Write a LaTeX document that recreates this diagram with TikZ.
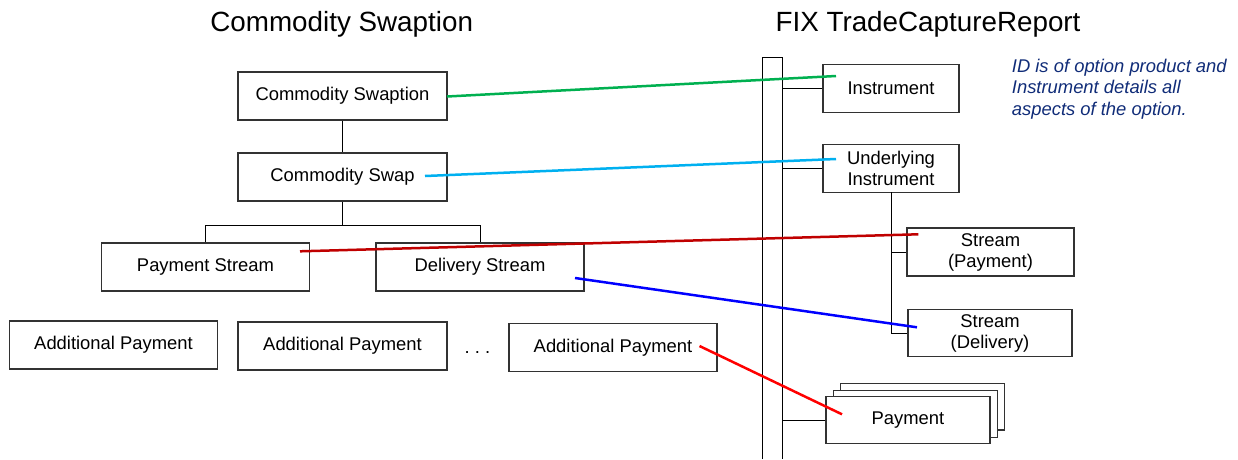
\documentclass[tikz,border=0pt]{standalone}
\usepackage{fontspec}
\setmainfont{Liberation Sans}
\usetikzlibrary{calc}

\definecolor{mapgreen}{RGB}{0,176,80}
\definecolor{mapcyan}{RGB}{0,176,240}
\definecolor{mapdarkred}{RGB}{192,0,0}
\definecolor{mapblue}{RGB}{0,0,255}
\definecolor{mapred}{RGB}{255,0,0}
\definecolor{notenavy}{RGB}{16,44,120}
\definecolor{boxline}{RGB}{50,50,50}

\tikzset{
  box/.style={draw=boxline, line width=1.1pt, fill=white, inner sep=0pt,
    align=center, font=\fontsize{18.4}{21}\selectfont},
  wide/.style={box, minimum width=209pt, minimum height=48pt},
  fixbox/.style={box, minimum width=136pt, minimum height=47.5pt},
  tree/.style={draw=black, line width=1pt},
  map/.style={line width=2.5pt},
  title/.style={font=\fontsize{27.8}{32}\selectfont, anchor=base, inner sep=0pt}
}

\begin{document}
\begin{tikzpicture}[x=1pt, y=-1pt]
\useasboundingbox (0,0) rectangle (1238,459);

% headings
\node[title] (ltitle) at (341.7,31.7) {Commodity Swaption};
\node[title] (rtitle) at (928,31.7) {FIX TradeCaptureReport};

% note (base anchor sits on the last line)
\node[font=\fontsize{18.4}{21.6}\selectfont\itshape, text=notenavy, align=left,
      anchor=base west, inner sep=0pt] (note) at (1011.7,115.5)
  {ID is of option product and\\Instrument details all\\aspects of the option.};

% commodity swaption tree
\node[wide] (swaption) at (342.5,96) {Commodity Swaption};
\node[wide] (swap) at (342.5,177) {Commodity Swap};
\node[box, minimum width=208pt, minimum height=48pt] (pstream) at (205.5,267) {Payment Stream};
\node[box, minimum width=208pt, minimum height=48pt] (dstream) at (480,267) {Delivery Stream};
\node[box, minimum width=208pt, minimum height=48pt] (add1) at (113.5,345) {Additional Payment};
\node[wide] (add2) at (342.5,346) {Additional Payment};
\node[box, minimum width=208pt, minimum height=48pt] (add3) at (613,347.5) {Additional Payment};
\node[font=\fontsize{18.4}{21}\selectfont, anchor=base, inner sep=0pt] (dots) at (477.5,353) {.\ .\ .};

\coordinate (split) at (342.5,225);
\draw[tree] (swaption.south) -- (swap.north);
\draw[tree] (swap.south) -- (split);
\draw[tree] (pstream.north) -- (pstream.north |- split) -- (dstream.north |- split) -- (dstream.north);

% FIX message structure
\coordinate (barL) at (762,459);
\coordinate (barR) at (782,459);
\coordinate (barTop) at (772,57);
\draw[tree] (barL) -- (barL |- barTop) -- (barR |- barTop) -- (barR);

\node[fixbox] (instr) at (891,88.5) {Instrument};
\node[fixbox] (under) at (891,168.5) {Underlying\\Instrument};
\node[box, minimum width=167pt, minimum height=48pt] (spay) at (990.5,252) {Stream\\(Payment)};
\node[box, minimum width=164pt, minimum height=46.5pt] (sdel) at (990,333) {Stream\\(Delivery)};

\node[box, minimum width=164pt, minimum height=46.5pt] (payback) at (922.3,406.7) {};
\node[box, minimum width=164pt, minimum height=46.5pt] (paymid) at (915.5,414) {};
\node[box, minimum width=164pt, minimum height=46.5pt] (pay) at (908,420) {Payment};

\draw[tree] (instr.west) -- (instr.west -| barR);
\draw[tree] (under.west) -- (under.west -| barR);
\draw[tree] (pay.west) -- (pay.west -| barR);
\coordinate (ubranch) at (891.7,192.3);
\draw[tree] (ubranch) -- (ubranch |- sdel.west) -- (sdel.west);
\draw[tree] (ubranch |- spay.west) -- (spay.west);

% field mappings
\coordinate (gA) at (447,96.5);
\coordinate (gB) at (836,76);
\coordinate (cA) at (425,176);
\coordinate (cB) at (836,159);
\coordinate (dA) at (300,251.3);
\coordinate (dB) at (918.3,234.3);
\coordinate (bA) at (575,278);
\coordinate (bB) at (917,327.3);
\coordinate (rA) at (699.5,346);
\coordinate (rB) at (842,414.3);
\draw[map, mapgreen] (gA) -- (gB);
\draw[map, mapcyan] (cA) -- (cB);
\draw[map, mapdarkred] (dA) -- (dB);
\draw[map, mapblue] (bA) -- (bB);
\draw[map, mapred] (rA) -- (rB);
\end{tikzpicture}
\end{document}
